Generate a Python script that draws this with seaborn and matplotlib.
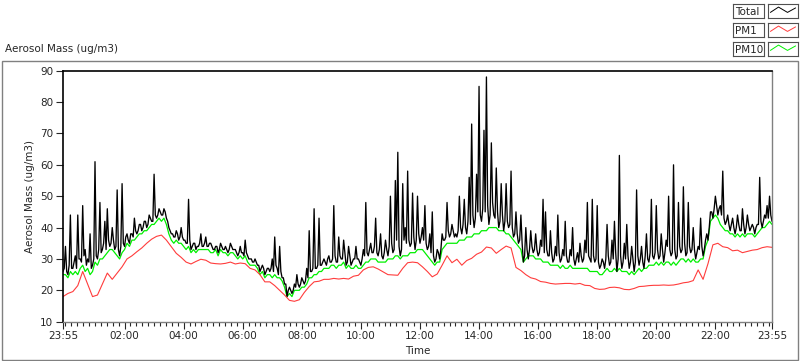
import numpy as np
import pandas as pd
import matplotlib
matplotlib.use('Agg')
import matplotlib.pyplot as plt
import seaborn as sns
from matplotlib.ticker import FixedLocator
from matplotlib.patches import Rectangle

sns.set_style('ticks')
plt.rcParams['font.family'] = ['DejaVu Sans']

# time axis in minutes after 23:55
t_fast = np.arange(0, 1441, 5)
t_mid = np.arange(2.5, 1440, 5)
t_pm1 = np.arange(0, 1441, 10)

# values (ug/m3)
total = [
    26, 34, 25, 44, 27, 31, 44, 30, 47, 33,
    30, 38, 28, 61, 30, 48, 33, 42, 46, 34,
    40, 33, 52, 31, 54, 34, 38, 35, 38, 43,
    38, 41, 39, 42, 40, 44, 42, 57, 43, 46,
    44, 46, 43, 40, 38, 37, 39, 36, 40, 36,
    35, 49, 33, 35, 33, 34, 38, 34, 37, 34,
    35, 33, 34, 32, 35, 33, 34, 32, 35, 33,
    33, 31, 34, 32, 36, 31, 30, 29, 30, 28,
    26, 28, 25, 27, 26, 30, 37, 27, 34, 24,
    22, 18, 21, 19, 22, 25, 21, 24, 22, 27,
    39, 26, 46, 27, 43, 28, 30, 28, 31, 29,
    47, 29, 37, 30, 36, 28, 34, 28, 30, 34,
    30, 28, 33, 48, 31, 35, 32, 43, 31, 38,
    30, 36, 31, 50, 32, 55, 64, 31, 54, 40,
    58, 34, 51, 33, 50, 35, 40, 47, 33, 38,
    45, 29, 33, 30, 38, 36, 48, 37, 41, 37,
    37, 50, 38, 49, 38, 56, 73, 40, 57, 85,
    42, 71, 88, 41, 67, 44, 59, 40, 54, 39,
    54, 40, 58, 37, 45, 35, 44, 29, 40, 30,
    39, 32, 38, 31, 36, 49, 45, 31, 39, 29,
    34, 44, 29, 33, 42, 29, 33, 40, 28, 32,
    35, 29, 36, 48, 30, 49, 29, 47, 27, 30,
    27, 41, 28, 36, 42, 26, 63, 27, 35, 41,
    27, 34, 26, 52, 28, 34, 27, 38, 29, 49,
    30, 47, 30, 38, 29, 36, 50, 31, 60, 30,
    48, 32, 53, 31, 48, 32, 40, 30, 34, 43,
    31, 36, 36, 45, 43, 50, 44, 47, 58, 41,
    44, 39, 43, 38, 44, 39, 46, 38, 44, 39,
    41, 38, 41, 56, 40, 44, 47, 50, 42,
]

# in-between Total samples (half-way between the ones above)
total_mid = [
    27, 26, 28, 27, 29, 27, 30, 29, 31, 28,
    29, 27, 30, 31, 33, 32, 35, 33, 36, 35,
    36, 34, 33, 34, 35, 37, 36, 38, 37, 39,
    39, 41, 40, 42, 41, 43, 42, 44, 44, 45,
    44, 45, 42, 39, 38, 37, 38, 37, 37, 36,
    35, 36, 34, 35, 34, 35, 34, 35, 34, 35,
    34, 33, 34, 33, 34, 33, 33, 33, 34, 33,
    32, 32, 32, 31, 32, 30, 30, 29, 29, 28,
    27, 27, 26, 27, 27, 26, 28, 25, 26, 24,
    22, 20, 20, 20, 21, 22, 22, 23, 23, 24,
    26, 27, 27, 28, 28, 29, 29, 30, 29, 30,
    31, 29, 31, 30, 32, 29, 31, 29, 30, 30,
    29, 30, 31, 32, 33, 32, 34, 32, 33, 31,
    32, 33, 34, 35, 33, 36, 34, 33, 36, 35,
    36, 35, 37, 36, 38, 37, 36, 35, 34, 32,
    31, 30, 32, 33, 36, 37, 39, 38, 39, 38,
    39, 40, 41, 40, 42, 41, 44, 43, 45, 44,
    46, 45, 47, 44, 48, 43, 45, 42, 44, 42,
    42, 41, 40, 38, 38, 36, 35, 31, 33, 33,
    34, 33, 33, 32, 34, 32, 33, 31, 32, 30,
    31, 32, 30, 31, 31, 29, 31, 30, 30, 29,
    31, 30, 32, 31, 29, 31, 30, 29, 28, 29,
    30, 31, 29, 30, 32, 30, 31, 29, 30, 31,
    29, 30, 29, 31, 30, 29, 31, 30, 32, 31,
    32, 33, 31, 33, 32, 34, 33, 32, 33, 31,
    34, 33, 35, 32, 34, 33, 33, 32, 33, 34,
    33, 38, 40, 45, 46, 47, 46, 44, 43, 42,
    41, 41, 40, 40, 41, 39, 41, 40, 41, 40,
    40, 40, 41, 42, 42, 43, 43, 44,
]

pm10 = [
    25, 25, 24, 26, 25, 26, 25, 27, 28, 26,
    27, 25, 26, 29, 28, 30, 30, 31, 32, 33,
    33, 32, 31, 30, 32, 33, 35, 34, 36, 36,
    37, 38, 38, 39, 39, 40, 41, 41, 42, 43,
    42, 43, 41, 38, 36, 35, 36, 35, 35, 34,
    33, 34, 32, 33, 32, 33, 33, 33, 33, 33,
    32, 32, 33, 31, 33, 32, 32, 31, 32, 32,
    31, 30, 31, 30, 31, 29, 28, 28, 28, 27,
    25, 26, 24, 25, 25, 24, 25, 24, 24, 23,
    21, 18, 19, 18, 20, 20, 20, 21, 21, 22,
    24, 24, 25, 25, 26, 26, 27, 27, 27, 28,
    28, 27, 28, 28, 29, 27, 28, 27, 27, 28,
    27, 27, 28, 29, 29, 30, 30, 30, 29, 29,
    29, 29, 30, 30, 30, 31, 31, 30, 31, 31,
    31, 32, 32, 32, 33, 33, 33, 32, 31, 30,
    29, 28, 29, 29, 33, 34, 35, 35, 35, 35,
    35, 36, 36, 36, 37, 37, 37, 38, 38, 38,
    39, 39, 39, 40, 40, 40, 40, 39, 39, 39,
    38, 38, 37, 36, 35, 34, 33, 29, 30, 31,
    31, 31, 30, 30, 30, 29, 29, 29, 28, 28,
    28, 28, 27, 28, 27, 27, 28, 27, 27, 27,
    27, 27, 27, 27, 26, 26, 26, 26, 25, 25,
    26, 27, 26, 26, 27, 26, 27, 26, 26, 26,
    25, 26, 25, 26, 27, 26, 27, 27, 28, 28,
    28, 29, 28, 29, 28, 29, 29, 28, 29, 28,
    29, 30, 30, 29, 30, 29, 30, 29, 29, 30,
    30, 34, 36, 42, 43, 44, 43, 41, 40, 39,
    39, 38, 38, 37, 38, 37, 38, 37, 38, 38,
    38, 37, 38, 39, 40, 40, 41, 42, 41,
]

pm1 = [
    18.0, 19.0, 19.6, 21.5, 26.0, 22.0, 18.0, 18.5, 22.0, 25.5,
    23.5, 25.5, 27.5, 30.0, 31.0, 32.3, 33.5, 35.0, 36.3, 37.2,
    37.6, 36.0, 33.9, 31.8, 30.5, 29.0, 28.4, 29.2, 29.9, 29.6,
    28.7, 28.5, 28.4, 28.6, 29.0, 28.4, 28.7, 28.5, 27.0, 26.5,
    25.0, 22.7, 22.7, 21.5, 20.0, 18.5, 16.8, 16.5, 17.0, 19.3,
    21.2, 22.7, 22.9, 23.5, 23.5, 23.8, 23.6, 23.8, 23.6, 24.5,
    24.8, 26.5, 27.3, 27.5, 26.8, 25.9, 25.0, 24.9, 24.8, 27.0,
    28.8, 29.0, 28.8, 27.5, 26.0, 24.3, 25.2, 28.0, 31.0, 28.8,
    29.9, 28.0, 29.5, 30.2, 31.5, 32.2, 33.8, 33.5, 31.8, 33.0,
    34.1, 33.5, 27.3, 26.3, 25.0, 24.0, 23.6, 22.8, 22.6, 22.2,
    22.0, 22.1, 22.2, 22.2, 22.0, 22.2, 21.6, 21.5, 20.6, 20.3,
    20.4, 20.9, 21.0, 20.8, 20.3, 20.2, 20.6, 21.2, 21.3, 21.5,
    21.6, 21.6, 21.7, 21.6, 21.7, 22.0, 22.4, 22.6, 23.1, 26.5,
    23.5, 28.5, 34.5, 35.0, 33.9, 33.6, 32.6, 32.8, 32.0, 32.4,
    32.8, 33.0, 33.6, 33.9, 33.7,
]

tick_minutes = [0, 125, 245, 365, 485, 605, 725, 845, 965, 1085, 1205, 1325, 1440]
tick_labels = ['23:55', '02:00', '04:00', '06:00', '08:00', '10:00', '12:00',
               '14:00', '16:00', '18:00', '20:00', '22:00', '23:55']
minor_minutes = np.arange(5, 1440, 12)

series_names = ['Total', 'PM1', 'PM10']
series_colors = ['#000000', '#ff3c3c', '#00f000']

W, H = 800, 361
fig = plt.figure(figsize=(W / 100, H / 100), dpi=100)
ax = fig.add_axes([63 / W, 1 - 321.7 / H, (772 - 63) / W, (321.7 - 70.7) / H])

pm10_df = pd.DataFrame({'t': t_fast, 'PM10': pm10})
total_df = pd.concat([pd.DataFrame({'t': t_fast, 'Total': total}),
                      pd.DataFrame({'t': t_mid, 'Total': total_mid})]).sort_values('t')
pm1_df = pd.DataFrame({'t': t_pm1, 'PM1': pm1})
sns.lineplot(data=pm10_df, x='t', y='PM10', color=series_colors[2], lw=0.9, ax=ax)
sns.lineplot(data=total_df, x='t', y='Total', color=series_colors[0], lw=0.95, ax=ax)
sns.lineplot(data=pm1_df, x='t', y='PM1', color=series_colors[1], lw=0.8, ax=ax)

ax.set_xlim(0, 1440)
ax.set_ylim(10, 90)
ax.set_xticks(tick_minutes, tick_labels)
ax.xaxis.set_minor_locator(FixedLocator(minor_minutes))
ax.set_yticks(range(10, 91, 10))
ax.tick_params(axis='x', which='major', length=5, width=0.8, labelsize=7.5, pad=2)
ax.tick_params(axis='x', which='minor', length=3, width=0.8)
ax.tick_params(axis='y', length=5, width=0.8, labelsize=7.5, pad=2)
ax.set_xlabel('Time', fontsize=7.5, labelpad=3)
ax.set_ylabel('Aerosol Mass (ug/m3)', fontsize=7.5, labelpad=4)

for side in ['top', 'left']:
    ax.spines[side].set_color('black')
    ax.spines[side].set_linewidth(1.2)
for side in ['right', 'bottom']:
    ax.spines[side].set_color('#808080')
    ax.spines[side].set_linewidth(1.0)

# panel frame and caption
fig.add_artist(Rectangle((1.5 / W, 1 / H), (798 - 1.5) / W, 299 / H, fill=False,
                         edgecolor='#808080', lw=1, transform=fig.transFigure))
fig.text(5 / W, 1 - 49 / H, 'Aerosol Mass (ug/m3)', fontsize=7.5, ha='left', va='center')

# legend boxes, top right
for k, (name, col) in enumerate(zip(series_names, series_colors)):
    top = 4 + 19 * k
    box = fig.add_axes([733 / W, 1 - (top + 14) / H, 31 / W, 14 / H])
    box.set_xticks([])
    box.set_yticks([])
    box.text(0.06, 0.45, name, fontsize=7.5, ha='left', va='center', transform=box.transAxes)
    icon = fig.add_axes([768 / W, 1 - (top + 14) / H, 30 / W, 14 / H])
    icon.plot([0.08, 0.35, 0.65, 0.92], [0.4, 0.78, 0.4, 0.72], color=col, lw=0.7)
    icon.set_xlim(0, 1)
    icon.set_ylim(0, 1)
    icon.set_xticks([])
    icon.set_yticks([])
    for a in (box, icon):
        for s in a.spines.values():
            s.set_color('#505050')
            s.set_linewidth(0.8)

fig.savefig('out.png', dpi=100)
